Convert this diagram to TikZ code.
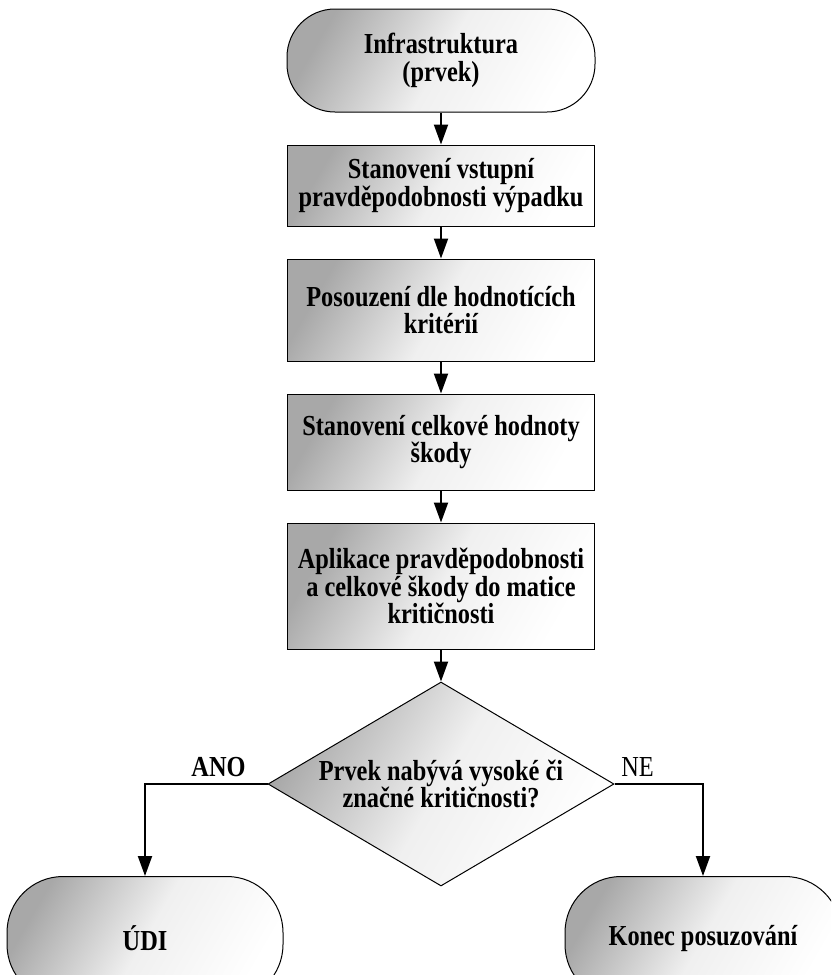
\documentclass[tikz,border=0pt]{standalone}
\usepackage{fontspec}
\setmainfont{Liberation Serif}[FakeStretch=0.84]
\usetikzlibrary{arrows.meta,positioning,shapes.geometric}

\tikzset{
  box/.style={draw=black,line width=0.5pt,top color=black!34,bottom color=white,
    middle color=black!6,shading angle=60,minimum width=153.5pt,align=center,inner sep=0pt,
    font=\fontsize{14.5}{13.8}\selectfont\bfseries},
  term/.style={box,rounded corners=24pt},
  decide/.style={box,diamond,aspect=1.7,minimum width=173pt,minimum height=102pt},
  arr/.style={-{Triangle[length=10pt,width=7pt]},line width=1pt},
  lbl/.style={font=\fontsize{14.5}{13.8}\selectfont}
}

\begin{document}
\begin{tikzpicture}[x=0.5pt,y=-0.5pt,node distance=16pt]
  \useasboundingbox (0,0) rectangle (831,975);
  \clip (0,0) rectangle (831,975);
  \node[term,minimum width=154pt,minimum height=51.5pt] (start) at (441,60.5) {Infrastruktura\\(prvek)};
  \node[box,minimum height=40.5pt,below=of start] (vstup) {Stanovení vstupní\\pravděpodobnosti výpadku};
  \node[box,minimum height=51pt,below=of vstup] (kriteria) {Posouzení dle hodnotících\\kritérií};
  \node[box,minimum height=48pt,below=of kriteria] (skoda) {Stanovení celkové hodnoty\\škody};
  \node[box,minimum height=63pt,below=of skoda] (matice) {Aplikace pravděpodobnosti\\a celkové škody do matice\\kritičnosti};
  \node[decide,below=of matice] (otazka) {Prvek nabývá vysoké či\\značné kritičnosti?};
  \node[term,rounded corners=28pt,minimum width=138pt,minimum height=62pt,anchor=north] (udi) at (145,876) {ÚDI};
  \node[term,rounded corners=28pt,minimum width=138pt,minimum height=62pt,anchor=north] (konec) at (703,876) {Konec posuzování};
  \foreach \a/\b in {start/vstup,vstup/kriteria,kriteria/skoda,skoda/matice,matice/otazka}
    \draw[arr] (\a) -- (\b);
  \draw[arr] (otazka.west) -| node[lbl,pos=0.2,above=0pt,font=\fontsize{14.5}{13.8}\selectfont\bfseries] (ano) {ANO} (udi.north);
  \draw[arr] (otazka.east) -| node[lbl,pos=0.13,above=0pt] (ne) {NE} (konec.north);
\end{tikzpicture}
\end{document}
